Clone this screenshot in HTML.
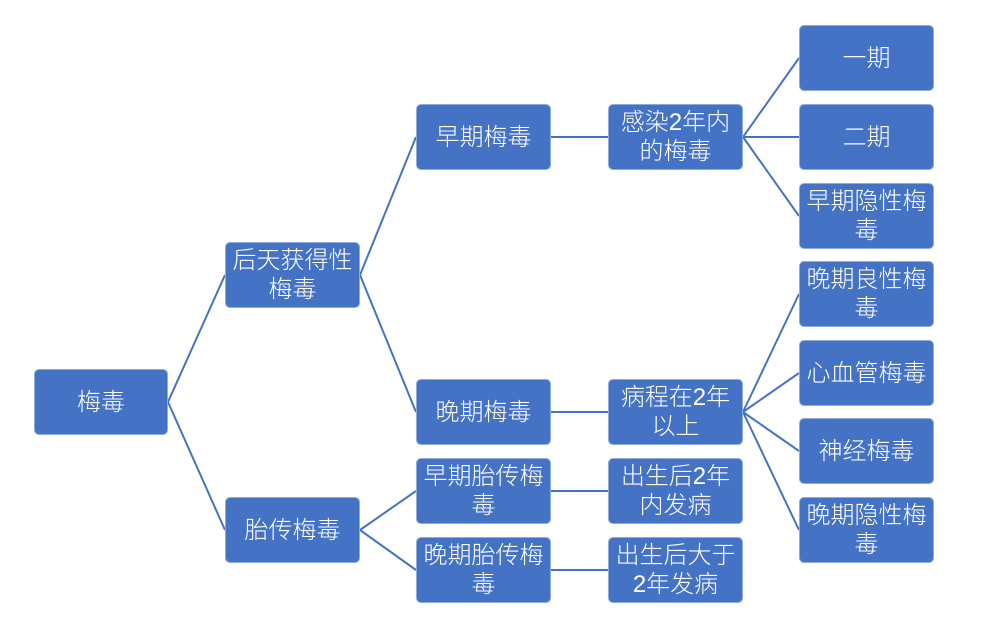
<!DOCTYPE html>
<html>
<head>
<meta charset="utf-8">
<style>
  html, body { margin:0; padding:0; background:#ffffff; }
  body { width:983px; height:644px; position:relative; overflow:hidden; }
  svg { position:absolute; left:0; top:0; }
  .b {
    position:absolute; box-sizing:border-box;
    width:135px; height:66px;
    background:#4472C4; border:1px solid #8FAADC; border-radius:5px;
    display:flex; align-items:center; justify-content:center; text-align:center;
    color:#ffffff;
    font-family:"Liberation Sans","Noto Sans CJK SC","WenQuanYi Zen Hei",sans-serif;
    font-size:24px; line-height:29px; font-weight:300;
    white-space:nowrap;
  }
</style>
</head>
<body>
<svg width="983" height="644" viewBox="0 0 983 644">
  <g stroke="#4472C4" stroke-width="2" fill="none">
    <line x1="168" y1="402" x2="225" y2="275"/>
    <line x1="168" y1="402" x2="225" y2="530"/>
    <line x1="360" y1="275" x2="416" y2="137"/>
    <line x1="360" y1="275" x2="416" y2="412"/>
    <line x1="360" y1="530" x2="416" y2="491"/>
    <line x1="360" y1="530" x2="416" y2="570"/>
    <line x1="551" y1="137" x2="608" y2="137"/>
    <line x1="551" y1="412" x2="608" y2="412"/>
    <line x1="551" y1="491" x2="608" y2="491"/>
    <line x1="551" y1="570" x2="608" y2="570"/>
    <line x1="743" y1="137" x2="799" y2="58"/>
    <line x1="743" y1="137" x2="799" y2="137"/>
    <line x1="743" y1="137" x2="799" y2="216"/>
    <line x1="743" y1="412" x2="799" y2="294"/>
    <line x1="743" y1="412" x2="799" y2="373"/>
    <line x1="743" y1="412" x2="799" y2="451"/>
    <line x1="743" y1="412" x2="799" y2="530"/>
  </g>
</svg>

<div class="b" style="left:34px;top:369px;width:134px;">梅毒</div>

<div class="b" style="left:225px;top:242px;">后天获得性<br>梅毒</div>
<div class="b" style="left:225px;top:497px;">胎传梅毒</div>

<div class="b" style="left:416px;top:104px;">早期梅毒</div>
<div class="b" style="left:416px;top:379px;">晚期梅毒</div>
<div class="b" style="left:416px;top:458px;">早期胎传梅<br>毒</div>
<div class="b" style="left:416px;top:537px;">晚期胎传梅<br>毒</div>

<div class="b" style="left:608px;top:104px;">感染2年内<br>的梅毒</div>
<div class="b" style="left:608px;top:379px;">病程在2年<br>以上</div>
<div class="b" style="left:608px;top:458px;">出生后2年<br>内发病</div>
<div class="b" style="left:608px;top:537px;">出生后大于<br>2年发病</div>

<div class="b" style="left:799px;top:25px;">一期</div>
<div class="b" style="left:799px;top:104px;">二期</div>
<div class="b" style="left:799px;top:183px;">早期隐性梅<br>毒</div>
<div class="b" style="left:799px;top:261px;">晚期良性梅<br>毒</div>
<div class="b" style="left:799px;top:340px;">心血管梅毒</div>
<div class="b" style="left:799px;top:418px;">神经梅毒</div>
<div class="b" style="left:799px;top:497px;">晚期隐性梅<br>毒</div>
</body>
</html>
